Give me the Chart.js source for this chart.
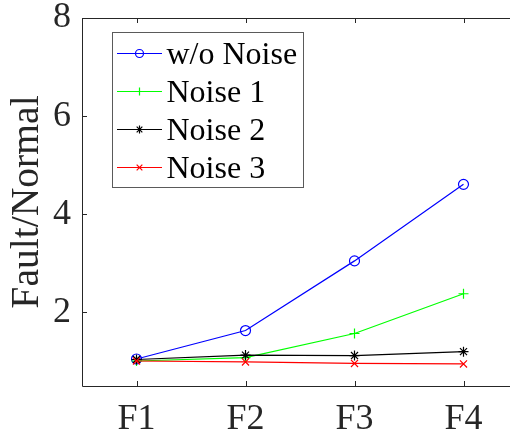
<!DOCTYPE html>
<html>
<head>
<meta charset="utf-8">
<script src="https://cdn.jsdelivr.net/npm/chart.js@4"></script>
<style>
  html, body { margin: 0; padding: 0; background: #fff; overflow: hidden; }
  #wrap { position: absolute; left: 0; top: 0; width: 530px; height: 436px; }
  #fontwarm { position: absolute; left: 0; top: 0; font-family: "Liberation Serif"; font-size: 32px; color: #fff; }
</style>
</head>
<body>
<div id="fontwarm">Fault/Normal F1 2 4 6 8 w/o Noise</div>
<div id="wrap"><canvas id="ratioChart" width="530" height="436"></canvas></div>
<script>
// fault cases on the x axis
const faults = ["F1", "F2", "F3", "F4"];
// fault/normal ratio for each noise level
const noNoise = [1.05, 1.63, 3.05, 4.61];
const noise1  = [1.01, 1.08, 1.57, 2.38];
const noise2  = [1.04, 1.13, 1.12, 1.20];
const noise3  = [1.01, 0.99, 0.96, 0.95];
const seriesNames = ["w/o Noise", "Noise 1", "Noise 2", "Noise 3"];
const yTicks = [2, 4, 6, 8];

const AXIS = "#262626";
const SERIF = "'Liberation Serif'";

function makeSet(label, data, color, style, order) {
    return {
        label: label,
        data: data,
        borderColor: color,
        backgroundColor: "rgba(0,0,0,0)",
        pointBorderColor: color,
        pointBackgroundColor: "rgba(0,0,0,0)",
        pointStyle: style,
        pointRadius: 5,
        pointBorderWidth: 1.2,
        borderWidth: 1.2,
        tension: 0,
        fill: false,
        order: order
    };
}

// box, inward ticks and the legend panel
const matlabAxes = {
    id: "matlabAxes",
    afterDraw(chart) {
        const ctx = chart.ctx;
        const a = chart.chartArea;
        const xs = chart.scales.x, ys = chart.scales.y;
        ctx.save();
        ctx.strokeStyle = AXIS;
        ctx.lineWidth = 1;
        ctx.beginPath();
        ctx.moveTo(a.left + 0.5, a.top + 0.5);
        ctx.lineTo(a.right, a.top + 0.5);
        ctx.moveTo(a.left + 0.5, a.top);
        ctx.lineTo(a.left + 0.5, a.bottom + 0.5);
        ctx.lineTo(a.right, a.bottom + 0.5);
        xs.ticks.forEach((t, i) => {
            const px = Math.round(xs.getPixelForTick(i)) + 0.5;
            ctx.moveTo(px, a.bottom);
            ctx.lineTo(px, a.bottom - 5);
            ctx.moveTo(px, a.top);
            ctx.lineTo(px, a.top + 5);
        });
        ys.ticks.forEach(t => {
            const py = Math.round(ys.getPixelForValue(t.value)) + 0.5;
            ctx.moveTo(a.left, py);
            ctx.lineTo(a.left + 5, py);
        });
        ctx.stroke();

        // legend
        const bx = a.left + 30.5, by = a.top + 14.5, bw = 191, bh = 155;
        ctx.fillStyle = "#fff";
        ctx.fillRect(bx, by, bw, bh);
        ctx.strokeStyle = "#5a5a5a";
        ctx.strokeRect(bx, by, bw, bh);
        ctx.font = "32px " + SERIF;
        ctx.textBaseline = "middle";
        ctx.textAlign = "left";
        chart.data.datasets.forEach((ds, i) => {
            const ry = by + 21 + i * 38;
            const x0 = bx + 4.5, x1 = bx + 49.5;
            ctx.strokeStyle = ds.borderColor;
            ctx.lineWidth = 1.2;
            ctx.beginPath();
            ctx.moveTo(x0, ry);
            ctx.lineTo(x1, ry);
            ctx.stroke();
            ctx.fillStyle = "rgba(0,0,0,0)";
            Chart.helpers.drawPoint(ctx, {
                pointStyle: ds.pointStyle, radius: 4, borderWidth: 1.2, rotation: 0
            }, (x0 + x1) / 2, ry);
            ctx.font = "32px " + SERIF;
            ctx.fillStyle = "#000";
            ctx.fillText(ds.label, bx + 54, ry + 2);
        });
        ctx.restore();
    }
};

function build() {
    return new Chart(document.getElementById("ratioChart"), {
        type: "line",
        data: {
            labels: faults,
            datasets: [
                makeSet(seriesNames[0], noNoise, "#0000ff", "circle", 4),
                makeSet(seriesNames[1], noise1, "#00ff00", "cross", 3),
                makeSet(seriesNames[2], noise2, "#000000", "star", 2),
                makeSet(seriesNames[3], noise3, "#ff0000", "crossRot", 1)
            ]
        },
        options: {
            responsive: false,
            devicePixelRatio: 1,
            animation: false,
            layout: { padding: { top: 18, right: 12, left: 0, bottom: 0 } },
            plugins: {
                legend: { display: false },
                tooltip: { enabled: false }
            },
            scales: {
                x: {
                    type: "category",
                    offset: true,
                    grid: { display: false, drawTicks: false },
                    border: { display: false },
                    ticks: {
                        color: AXIS,
                        font: { family: SERIF, size: 36 },
                        padding: 12,
                        maxRotation: 0
                    },
                    afterFit(s) {
                        s.height = 50;
                        s.paddingLeft = 0;
                        s.paddingRight = 0;
                    }
                },
                y: {
                    min: 0.5,
                    max: 8,
                    grid: { display: false, drawTicks: false },
                    border: { display: false },
                    ticks: {
                        color: AXIS,
                        font: { family: SERIF, size: 36 },
                        padding: 11
                    },
                    afterBuildTicks(s) { s.ticks = yTicks.map(v => ({ value: v })); },
                    title: {
                        display: true,
                        text: "Fault/Normal",
                        color: AXIS,
                        font: { family: SERIF, size: 39.6 },
                        padding: { top: 4, bottom: 0 }
                    },
                    afterFit(s) {
                        s.width = 82;
                        s.paddingTop = 0;
                        s.paddingBottom = 0;
                    }
                }
            }
        },
        plugins: [matlabAxes]
    });
}

document.fonts.ready.then(() => requestAnimationFrame(build));
</script>
</body>
</html>
